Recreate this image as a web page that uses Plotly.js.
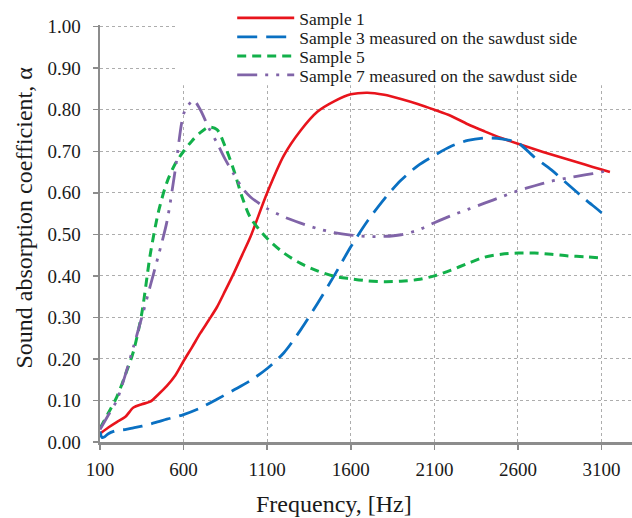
<!DOCTYPE html>
<html>
<head>
<meta charset="utf-8">
<script src="https://cdn.plot.ly/plotly-3.0.1.min.js"></script>
<style>html,body{margin:0;padding:0;background:#fff;}#chart{width:632px;height:518px;}</style>
</head>
<body>
<div id="chart"></div>
<script>
// Frequencies, Hz
var freq1 = [100,150,200,250,300,350,400,450,500,550,600,650,700,750,800,850,900,950,1000,1100,1200,1300,1400,1500,1600,1700,1800,1900,2000,2100,2200,2300,2400,2500,2600,2700,2800,2900,3000,3100,3150];
var sample1 = [0.020,0.035,0.048,0.060,0.083,0.091,0.097,0.115,0.135,0.160,0.195,0.228,0.262,0.293,0.325,0.365,0.406,0.450,0.494,0.600,0.690,0.750,0.795,0.820,0.837,0.841,0.836,0.826,0.814,0.800,0.785,0.765,0.748,0.732,0.718,0.705,0.692,0.680,0.668,0.656,0.650];

var freq3 = [100,112,125,150,200,250,300,350,400,450,500,550,600,700,800,900,1000,1100,1200,1300,1400,1500,1600,1700,1800,1900,2000,2100,2200,2300,2400,2500,2600,2700,2800,2900,3000,3100,3140];
var sample3 = [0.025,0.011,0.012,0.020,0.028,0.030,0.034,0.038,0.043,0.049,0.055,0.060,0.066,0.082,0.103,0.125,0.148,0.177,0.215,0.270,0.333,0.400,0.470,0.532,0.585,0.630,0.665,0.690,0.712,0.726,0.732,0.730,0.720,0.685,0.655,0.620,0.585,0.552,0.537];

var freq5 = [100,150,200,250,300,350,400,450,500,550,600,650,700,750,800,850,900,950,1000,1100,1200,1300,1400,1500,1600,1700,1800,1900,2000,2100,2200,2300,2400,2500,2600,2700,2800,2900,3000,3100];
var sample5 = [0.033,0.070,0.108,0.160,0.218,0.310,0.450,0.555,0.625,0.670,0.700,0.725,0.745,0.758,0.752,0.710,0.655,0.590,0.540,0.490,0.455,0.430,0.412,0.399,0.393,0.388,0.386,0.387,0.391,0.400,0.414,0.430,0.445,0.452,0.455,0.455,0.452,0.448,0.446,0.443];

var freq7 = [100,150,200,250,300,350,400,450,500,550,600,630,660,700,750,800,850,900,950,1000,1100,1200,1300,1400,1500,1600,1700,1800,1900,2000,2100,2200,2300,2400,2500,2600,2700,2800,2900,3000,3100,3150];
var sample7 = [0.030,0.065,0.100,0.160,0.229,0.300,0.375,0.450,0.530,0.655,0.790,0.812,0.823,0.800,0.757,0.720,0.680,0.645,0.612,0.590,0.562,0.542,0.527,0.514,0.504,0.498,0.495,0.495,0.499,0.510,0.528,0.545,0.560,0.575,0.590,0.605,0.617,0.628,0.636,0.643,0.650,0.655];

var names = ["Sample 1","Sample 3 measured on the sawdust side","Sample 5","Sample 7 measured on the sawdust side"];
var xTicks = [100,600,1100,1600,2100,2600,3100];
var xTickText = ["100","600","1100","1600","2100","2600","3100"];
var yTicks = [0,0.1,0.2,0.3,0.4,0.5,0.6,0.7,0.8,0.9,1.0];
var yTickText = ["0.00","0.10","0.20","0.30","0.40","0.50","0.60","0.70","0.80","0.90","1.00"];

var FONT = '"Liberation Serif", serif';

var traces = [
  {x: freq1, y: sample1, name: names[0], type: "scatter", mode: "lines", legend: "legend",
   line: {color: "#e8141c", width: 2.6, shape: "spline", smoothing: 0.8}},
  {x: freq3, y: sample3, name: names[1], type: "scatter", mode: "lines", legend: "legend2",
   line: {color: "#0a70c2", width: 2.8, shape: "spline", smoothing: 0.8, dash: "20px,9px"}},
  {x: freq5, y: sample5, name: names[2], type: "scatter", mode: "lines", legend: "legend3",
   line: {color: "#12b04a", width: 3, shape: "spline", smoothing: 0.8, dash: "9px,6px"}},
  {x: freq7, y: sample7, name: names[3], type: "scatter", mode: "lines", legend: "legend4",
   line: {color: "#8064a8", width: 2.8, shape: "spline", smoothing: 0.8, dash: "20px,8px,3px,8px,3px,8px"}}
];

function legendAt(y) {
  return {x: 0.2485, y: y, xanchor: "left", yanchor: "middle", itemwidth: 57,
          bgcolor: "rgba(255,255,255,0)", borderwidth: 0,
          font: {family: FONT, size: 17.5, color: "#1a1a1a"}};
}

var layout = {
  width: 632, height: 518,
  margin: {l: 100, r: 0, t: 25, b: 76.3, pad: 0, autoexpand: false},
  paper_bgcolor: "#fff", plot_bgcolor: "#fff",
  font: {family: FONT, size: 19, color: "#1a1a1a"},
  showlegend: true,
  legend: legendAt(1.0168),
  legend2: legendAt(0.9712),
  legend3: legendAt(0.9256),
  legend4: legendAt(0.8800),
  xaxis: {
    range: [100, 3282], tickmode: "array", tickvals: xTicks, ticktext: xTickText,
    showgrid: true, gridcolor: "#adadad", griddash: "dot", gridwidth: 1,
    showline: true, linecolor: "#8c8c8c", linewidth: 2.5, zeroline: false,
    ticks: "outside", ticklen: 5, tickwidth: 1.5, tickcolor: "#8c8c8c",
    ticklabelstandoff: 4,
    tickfont: {family: FONT, size: 19, color: "#1a1a1a"}
  },
  yaxis: {
    range: [0, 1.004], tickmode: "array", tickvals: yTicks, ticktext: yTickText,
    showgrid: true, gridcolor: "#adadad", griddash: "dot", gridwidth: 1,
    showline: true, linecolor: "#8c8c8c", linewidth: 2.5, zeroline: false,
    ticks: "outside", ticklen: 5, tickwidth: 1.5, tickcolor: "#8c8c8c",
    ticklabelstandoff: 8,
    tickfont: {family: FONT, size: 19, color: "#1a1a1a"}
  },
  shapes: [
    {type: "rect", xref: "x", yref: "y", x0: 566, x1: 3282, y0: 0.859, y1: 1.004,
     fillcolor: "#ffffff", line: {width: 0}, layer: "between"}
  ],
  annotations: [
    {text: "Frequency, [Hz]", xref: "paper", yref: "paper", x: 0.439, y: -0.148,
     xanchor: "center", yanchor: "middle", showarrow: false,
     font: {family: FONT, size: 24, color: "#1a1a1a"}},
    {text: "Sound absorption coefficient, α", xref: "paper", yref: "paper", x: -0.143, y: 0.538,
     xanchor: "center", yanchor: "middle", showarrow: false, textangle: -90,
     font: {family: FONT, size: 24, color: "#1a1a1a"}}
  ]
};

Plotly.newPlot("chart", traces, layout, {displayModeBar: false, staticPlot: true});
</script>
</body>
</html>
